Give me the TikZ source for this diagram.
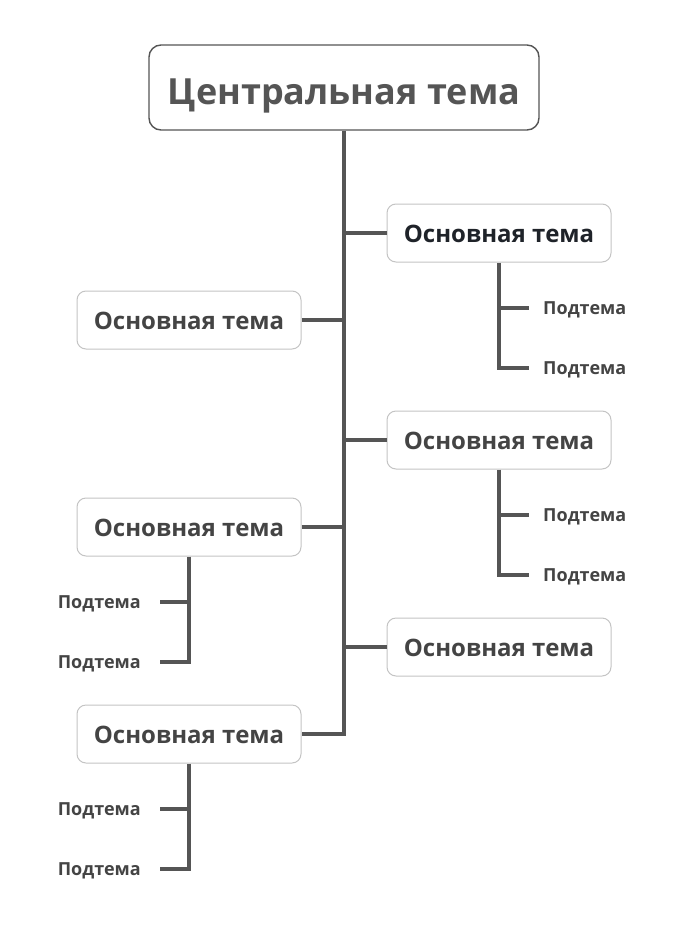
\documentclass[tikz,border=0pt]{standalone}
\usepackage{fontspec}
\setmainfont{Open Sans}
\definecolor{linec}{HTML}{555555}
\definecolor{boxb}{HTML}{C4C4C4}
\definecolor{ctext}{HTML}{555555}
\definecolor{mtext}{HTML}{444444}
\definecolor{dtext}{HTML}{1F2329}
\begin{document}
\begin{tikzpicture}[x=1pt,y=-1pt,
  central/.style={draw=linec, line width=1.4pt, rounded corners=12pt, minimum width=390pt, minimum height=85pt, fill=white, text=ctext, text height=33pt, text depth=0pt, font=\bfseries\fontsize{36}{40}\selectfont},
  mainbox/.style={draw=boxb, line width=1pt, rounded corners=9pt, minimum width=224pt, minimum height=58pt, fill=white, text=mtext, text height=18pt, text depth=0pt, font=\bfseries\fontsize{24}{28}\selectfont},
  subt/.style={inner sep=0pt, text=mtext, text height=13pt, text depth=0pt, font=\bfseries\fontsize{18}{22}\selectfont},
  conn/.style={draw=linec, line width=3.2pt}]
\useasboundingbox (0,0) rectangle (689,945);
\node[central] (c) at (344,87.5) {Центральная тема};
\node[mainbox, text=dtext] (r1) at (499,233) {Основная тема};
\node[mainbox] (r2) at (499,440) {Основная тема};
\node[mainbox] (r3) at (499,647) {Основная тема};
\node[mainbox] (l1) at (189,320) {Основная тема};
\node[mainbox] (l2) at (189,527) {Основная тема};
\node[mainbox] (l3) at (189,734) {Основная тема};
\node[subt, anchor=west] (r1a) at (543,308) {Подтема};
\node[subt, anchor=west] (r1b) at (543,368) {Подтема};
\node[subt, anchor=west] (r2a) at (543,515) {Подтема};
\node[subt, anchor=west] (r2b) at (543,575) {Подтема};
\node[subt, anchor=east] (l2a) at (141,602) {Подтема};
\node[subt, anchor=east] (l2b) at (141,662) {Подтема};
\node[subt, anchor=east] (l3a) at (141,809) {Подтема};
\node[subt, anchor=east] (l3b) at (141,869) {Подтема};
% trunk
\draw[conn] (c.south) -- (c.south |- l3.east) -- (l3.east);
\draw[conn] (c.south |- r1.west) -- (r1.west);
\draw[conn] (c.south |- r2.west) -- (r2.west);
\draw[conn] (c.south |- r3.west) -- (r3.west);
\draw[conn] (l1.east) -- (c.south |- l1.east);
\draw[conn] (l2.east) -- (c.south |- l2.east);
% subtopics
\draw[conn] (r1.south) |- ([xshift=-14pt]r1b.west);
\draw[conn] (r1.south |- r1a.west) -- ([xshift=-14pt]r1a.west);
\draw[conn] (r2.south) |- ([xshift=-14pt]r2b.west);
\draw[conn] (r2.south |- r2a.west) -- ([xshift=-14pt]r2a.west);
\draw[conn] (l2.south) |- ([xshift=19pt]l2b.east);
\draw[conn] (l2.south |- l2a.east) -- ([xshift=19pt]l2a.east);
\draw[conn] (l3.south) |- ([xshift=19pt]l3b.east);
\draw[conn] (l3.south |- l3a.east) -- ([xshift=19pt]l3a.east);
\end{tikzpicture}
\end{document}
